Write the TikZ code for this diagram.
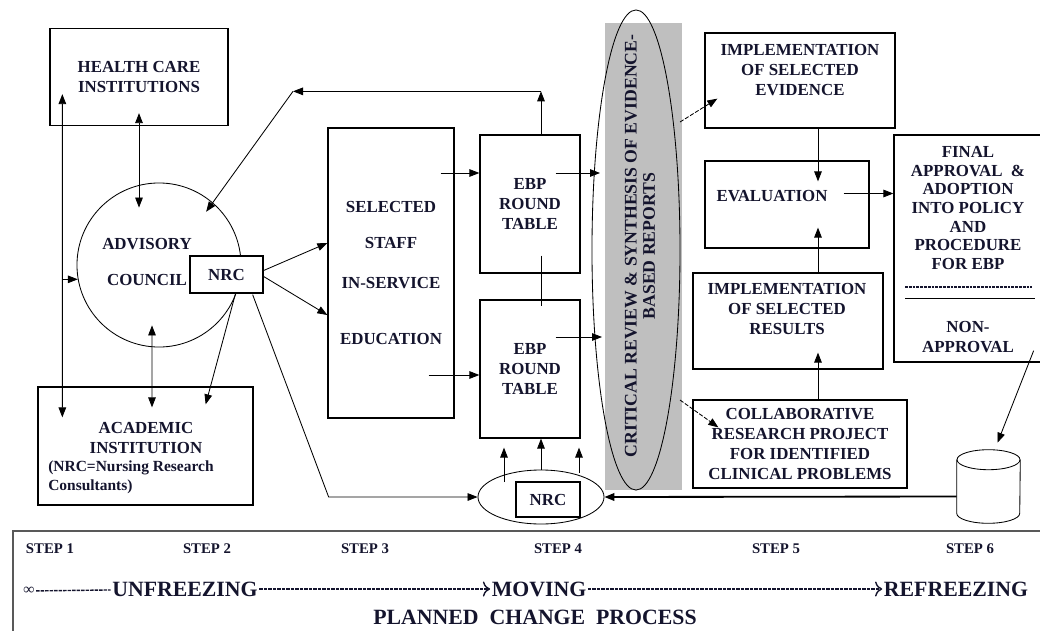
\documentclass[tikz,border=0pt]{standalone}
\usepackage{fontspec}
\setmainfont{Liberation Serif}
\usepackage{tikz}
\usetikzlibrary{arrows.meta,positioning,shapes.geometric,calc}
\usepackage{xcolor}
\definecolor{ink}{RGB}{20,20,45}
\newcommand{\boxfont}{\bfseries\fontsize{12}{14}\selectfont}

\begin{document}
\begin{tikzpicture}[x=0.025cm, y=-0.025cm,
  box/.style={rectangle, draw, line width=0.9pt, inner sep=0pt, align=center,
              font=\boxfont, text=ink},
  lbl/.style={align=center, font=\boxfont, text=ink, inner sep=0pt},
  ring/.style={draw, semithick, inner sep=0pt},
  arrow/.style={-{Triangle[length=2.5mm,width=1.9mm]}, semithick},
  dblarrow/.style={{Triangle[length=2.5mm,width=1.9mm]}-{Triangle[length=2.5mm,width=1.9mm]}, semithick},
  dasharrow/.style={arrow, dash pattern=on 3pt off 1.2pt},
  stepno/.style={font=\bfseries\fontsize{10.5}{12}\selectfont, text=ink},
  stage/.style={font=\bfseries\fontsize{15.5}{17}\selectfont, text=ink, inner sep=1pt},
  stageline/.style={dash pattern=on 2.4pt off 0.8pt, line width=1pt, ink}
]
\useasboundingbox (0,0) rectangle (1040,631);

% Left column
\node[box, minimum width=4.45cm, minimum height=2.425cm] (hci) at (139,77)
  {HEALTH CARE\\INSTITUTIONS};
\node[ring, circle, minimum size=4.1cm] (council) at (159,265) {};
\node[lbl] (councillbl) at (147,262) {ADVISORY\\[12pt]COUNCIL};
\node[box, fill=white, minimum width=1.825cm, minimum height=0.925cm] (nrcl) at (226.5,274.5) {NRC};
\node[box, minimum width=5.375cm, minimum height=2.95cm] (acad) at (145.5,446) {};
\node[lbl] (acadname) at (146,438) {ACADEMIC\\INSTITUTION};
\node[lbl, anchor=west, align=left, font=\bfseries\fontsize{11}{13.5}\selectfont] (acadnote) at (48,477)
  {(NRC=Nursing Research\\Consultants)};

% Staff and round tables
\node[box, minimum width=3.15cm, minimum height=7.25cm] (staff) at (391,273)
  {SELECTED\\[12pt]STAFF\\[14pt]IN-SERVICE\\[26pt]EDUCATION};
\node[box, minimum width=2.5cm, minimum height=3.45cm] (ebp1) at (530,204) {EBP\\ROUND\\TABLE};
\node[box, minimum width=2.5cm, minimum height=3.45cm] (ebp2) at (530,369) {EBP\\ROUND\\TABLE};

% Critical review
\fill[black!25] (605,23) rectangle (682,490);
\node[ring, ellipse, minimum width=2.2cm, minimum height=12cm] (review) at (636,250) {};
\node[lbl, rotate=90, font=\bfseries\fontsize{12.6}{13}\selectfont] (reviewlbl) at (640,246)
  {CRITICAL REVIEW \& SYNTHESIS OF EVIDENCE-\\BASED REPORTS};

% Bottom NRC
\node[ring, ellipse, minimum width=3.15cm, minimum height=1.35cm] (nrcell) at (541,497) {};
\node[box, minimum width=1.6cm, minimum height=0.875cm] (nrcb) at (548,499.5) {NRC};

% Right column
\node[box, minimum width=4.75cm, minimum height=2.375cm] (implev) at (800,80.5) {};
\node[lbl] (implevlbl) at (800,70) {IMPLEMENTATION\\OF SELECTED\\EVIDENCE};
\node[box, minimum width=4.1cm, minimum height=2.175cm] (eval) at (787,204.5) {};
\node[lbl] (evallbl) at (772,196) {EVALUATION};
\node[box, minimum width=4.75cm, minimum height=2.4cm] (results) at (788,321) {};
\node[lbl] (resultslbl) at (787,309) {IMPLEMENTATION\\OF SELECTED\\RESULTS};
\node[box, minimum width=5.35cm, minimum height=2.2cm] (collab) at (800,444)
  {COLLABORATIVE\\RESEARCH PROJECT\\FOR IDENTIFIED\\CLINICAL PROBLEMS};
\node[box, minimum width=3.775cm, minimum height=5.675cm] (final) at (969.5,248.5) {};
\node[lbl, font=\bfseries\fontsize{12}{13.2}\selectfont] (finallbl) at (968,208)
  {FINAL\\APPROVAL \ \&\\ADOPTION\\INTO POLICY\\AND\\PROCEDURE\\FOR EBP};
\draw[ink, line width=1.3pt, dash pattern=on 2pt off 0.7pt] (905,287) -- (1032,287);
\draw[semithick] (905,298) -- (1035,298);
\node[lbl] (nonappr) at (968,337) {NON-\\APPROVAL};

% Storage cylinder
\node[minimum width=1.575cm, minimum height=1.825cm, inner sep=0pt] (cyl) at (988.5,486.5) {};
\draw[semithick] ($(cyl.north)+(0,10)$) ellipse [x radius=0.7875cm, y radius=0.25cm];
\draw[semithick] ($(cyl.north west)+(0,10)$) -- ($(cyl.south west)+(0,-10)$)
  arc[start angle=180, end angle=360, x radius=0.7875cm, y radius=0.25cm]
  -- ($(cyl.north east)+(0,10)$);

% Connections, left
\coordinate (vtop) at ($(hci.south west)+(13,-32)$);
\coordinate (vbot) at ($(acad.north west)+(25,31)$);
\draw[dblarrow] (vtop) -- (vbot);
\draw[arrow] (vtop |- council.190) -- (council.190);
\draw[dblarrow] ($(hci.south)+(0,-13)$) -- ($(hci.south |- council.north)+(0,25)$);
\draw[dblarrow] ($(council.south)+(-7,-22)$) -- ($(acad.north)+(6.5,21)$);
\draw[arrow] ($(nrcl.south)+(9,0)$) -- ($(acad.north east)+(-48,18)$);
\draw[arrow] ($(nrcl.east)+(0,-4)$) -- ($(staff.west)+(0,-30)$);
\draw[arrow] ($(nrcl.east)+(0,2)$) -- ($(staff.west)+(0,42)$);
\coordinate (nrcbend) at ($(nrcl.south east)+(65,0)$);
\draw[arrow] ($(nrcl.south east)+(-11,1)$) -- (nrcbend |- nrcell.west) -- (nrcell.west);

% Feedback loop to the council
\coordinate (loopr) at ($(ebp1.north)+(11,-43)$);
\coordinate (loopl) at ($(loopr)+(-248,0)$);
\draw[arrow] ($(ebp1.north)+(11,0)$) -- (loopr);
\draw[arrow] (loopr) -- (loopl);
\draw[arrow] (loopl) -- ($(council.48)+(-8,8)$);

% Connections, middle
\draw[arrow] ($(staff.east)+(-14,-100)$) -- ($(ebp1.west)+(0,-31)$);
\draw[arrow] ($(staff.east)+(-26,102)$) -- ($(ebp2.west)+(0,6)$);
\draw[semithick] ($(ebp1.south)+(11,-18)$) -- ($(ebp2.north)+(11,7)$);
\draw[arrow] ($(ebp1.east)+(-25,-31)$) -- ($(review.center)+(-36,-77)$);
\draw[arrow] ($(ebp2.east)+(-25,-32)$) -- ($(review.center)+(-34,87)$);
\draw[arrow] ($(nrcell.center)+(-37,-15)$) -- ($(ebp2.south)+(-26,9)$);
\draw[arrow] (nrcell.north) -- (ebp2.south -| nrcell.north);
\draw[arrow] ($(nrcell.center)+(38,-24)$) -- ($(ebp2.south)+(49,9)$);

% Connections, right
\draw[dasharrow] ($(review.center)+(44,-128)$) -- ($(implev.south west)+(13,-30)$);
\draw[dasharrow] ($(review.center)+(44,150)$) -- ($(collab.north west)+(26,28)$);
\draw[arrow] ($(implev.south)+(18,0)$) -- ($(eval.north)+(31,21)$);
\draw[arrow] ($(results.north)+(30,0)$) -- ($(eval.south)+(31,-21)$);
\draw[arrow] ($(collab.north)+(18,0)$) -- ($(results.south)+(30,-17)$);
\draw[arrow] ($(eval.east)+(-26,-11)$) -- ($(final.west)+(0,-55)$);
\draw[arrow] ($(final.south east)+(-12,-12)$) -- ($(cyl.north)+(9,-7)$);
\draw[arrow, line width=1.3pt] ($(cyl.west)+(0,10)$) -- (nrcell.east);

% Planned change process
\draw[line width=1.1pt, black!65] (1045,531) -- (13,531) -- (13,640);
\foreach \n/\x in {1/50,2/207,3/365,4/558,5/776,6/970}
  \node[stepno] (step\n) at (\x,549) {STEP \n};
\node[stage, font=\bfseries\fontsize{11}{12}\selectfont] (start) at (29,591) {∞};
\node[stage] (unfreeze) at (185,589) {UNFREEZING};
\node[stage] (moving) at (539,589) {MOVING};
\node[stage] (refreeze) at (956,589) {REFREEZING};
\draw[stageline] (start) -- (unfreeze);
\draw[stageline, -{To[length=1.8mm]}] (unfreeze) -- (moving);
\draw[stageline, -{To[length=1.8mm]}] (moving) -- (refreeze);
\node[stage] (process) at (535,617) {PLANNED \ CHANGE \ PROCESS};
\end{tikzpicture}
\end{document}
